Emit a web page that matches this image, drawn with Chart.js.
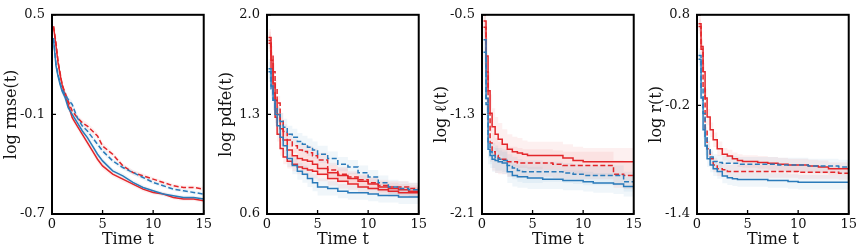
<!DOCTYPE html>
<html>
<head>
<meta charset="utf-8">
<script src="https://cdn.jsdelivr.net/npm/chart.js@4.4.1/dist/chart.umd.min.js"></script>
<style>
  body { margin: 0; background: #fff; }
  #wrap { position: relative; width: 865px; height: 252px; }
  .panel { position: absolute; top: 0; width: 215px; height: 252px; }
</style>
</head>
<body>
<div id="wrap">
  <div class="panel" style="left:0px"><canvas id="c1" width="215" height="252"></canvas></div>
  <div class="panel" style="left:215px"><canvas id="c2" width="215" height="252"></canvas></div>
  <div class="panel" style="left:430px"><canvas id="c3" width="215" height="252"></canvas></div>
  <div class="panel" style="left:645px"><canvas id="c4" width="215" height="252"></canvas></div>
</div>
<script>
// =====================
// Data
// =====================
var time = [0.15, 0.4, 0.6, 0.8, 1, 1.3, 1.6, 2, 2.5, 3, 3.5, 4, 4.5, 5, 6, 7, 8, 9, 10, 11, 12, 13, 14, 15];
var xTicks = [0, 5, 10, 15];

// log rmse(t)
var rmseTicks = [-0.7, -0.1, 0.5];
var rmseRedSolid  = [0.43, 0.31, 0.21, 0.14, 0.08, 0.01, -0.04, -0.12, -0.17, -0.22, -0.27, -0.32, -0.37, -0.41, -0.46, -0.49, -0.52, -0.55, -0.57, -0.58, -0.60, -0.61, -0.61, -0.62];
var rmseRedDashed = [0.43, 0.33, 0.22, 0.15, 0.08, 0.03, -0.02, -0.08, -0.12, -0.15, -0.17, -0.20, -0.23, -0.29, -0.34, -0.41, -0.45, -0.47, -0.49, -0.51, -0.53, -0.54, -0.54, -0.55];
var rmseBlueSolid = [0.35, 0.19, 0.13, 0.08, 0.04, 0.00, -0.06, -0.10, -0.15, -0.20, -0.24, -0.29, -0.34, -0.38, -0.44, -0.47, -0.51, -0.54, -0.56, -0.58, -0.59, -0.60, -0.60, -0.61];
var rmseBlueDashed = [0.36, 0.20, 0.14, 0.09, 0.05, 0.02, -0.01, -0.04, -0.12, -0.17, -0.20, -0.24, -0.28, -0.32, -0.38, -0.42, -0.45, -0.48, -0.51, -0.53, -0.55, -0.56, -0.57, -0.58];
var rmseRedSd  = [0.03, 0.03, 0.025, 0.02, 0.02, 0.02, 0.02, 0.02, 0.02, 0.02, 0.02, 0.02, 0.02, 0.02, 0.015, 0.015, 0.015, 0.015, 0.012, 0.012, 0.012, 0.012, 0.012, 0.012];
var rmseBlueSd = [0.03, 0.03, 0.025, 0.02, 0.02, 0.02, 0.02, 0.02, 0.02, 0.02, 0.02, 0.02, 0.02, 0.02, 0.015, 0.015, 0.015, 0.015, 0.012, 0.012, 0.012, 0.012, 0.012, 0.012];

// log pdfe(t)
var pdfeTicks = [0.6, 1.3, 2.0];
var pdfeBlueDashed = [1.60, 1.48, 1.40, 1.35, 1.30, 1.25, 1.21, 1.16, 1.14, 1.11, 1.09, 1.07, 1.05, 1.02, 0.99, 0.95, 0.93, 0.89, 0.86, 0.82, 0.79, 0.78, 0.77, 0.77];
var pdfeRedDashed  = [1.84, 1.72, 1.60, 1.48, 1.38, 1.26, 1.18, 1.12, 1.08, 1.05, 1.04, 1.03, 1.01, 0.98, 0.91, 0.88, 0.86, 0.84, 0.82, 0.80, 0.79, 0.79, 0.78, 0.78];
var pdfeRedSolid   = [1.82, 1.68, 1.52, 1.40, 1.30, 1.20, 1.12, 1.05, 1.01, 0.99, 0.98, 0.97, 0.95, 0.92, 0.89, 0.87, 0.85, 0.83, 0.81, 0.79, 0.78, 0.77, 0.76, 0.75];
var pdfeRedSolid2  = [1.80, 1.62, 1.45, 1.28, 1.16, 1.06, 1.00, 0.97, 0.95, 0.93, 0.92, 0.91, 0.90, 0.88, 0.85, 0.83, 0.81, 0.79, 0.78, 0.77, 0.76, 0.75, 0.75, 0.74];
var pdfeBlueSolid  = [1.62, 1.50, 1.40, 1.30, 1.22, 1.14, 1.08, 0.99, 0.94, 0.90, 0.88, 0.85, 0.82, 0.79, 0.78, 0.76, 0.75, 0.75, 0.74, 0.73, 0.73, 0.72, 0.72, 0.71];
var pdfeRedSd  = [0.06, 0.06, 0.06, 0.06, 0.05, 0.05, 0.05, 0.05, 0.05, 0.05, 0.05, 0.05, 0.05, 0.05, 0.05, 0.05, 0.04, 0.04, 0.04, 0.04, 0.04, 0.04, 0.04, 0.04];
var pdfeBlueSd = [0.07, 0.07, 0.07, 0.06, 0.06, 0.06, 0.06, 0.06, 0.06, 0.06, 0.06, 0.06, 0.06, 0.06, 0.05, 0.05, 0.05, 0.05, 0.05, 0.05, 0.05, 0.05, 0.05, 0.05];

// log l(t)
var ellTicks = [-2.1, -1.3, -0.5];
var ellRedSolid   = [-0.55, -0.83, -1.11, -1.29, -1.40, -1.46, -1.50, -1.54, -1.58, -1.60, -1.61, -1.62, -1.63, -1.63, -1.63, -1.63, -1.65, -1.67, -1.68, -1.68, -1.68, -1.68, -1.68, -1.68];
var ellRedDashed  = [-0.60, -0.96, -1.29, -1.53, -1.60, -1.63, -1.65, -1.66, -1.68, -1.68, -1.69, -1.69, -1.69, -1.69, -1.69, -1.70, -1.71, -1.71, -1.71, -1.71, -1.71, -1.78, -1.79, -1.82];
var ellBlueDashed = [-0.80, -1.22, -1.53, -1.60, -1.63, -1.65, -1.66, -1.67, -1.71, -1.73, -1.75, -1.76, -1.76, -1.76, -1.76, -1.76, -1.77, -1.78, -1.79, -1.79, -1.79, -1.79, -1.84, -1.88];
var ellBlueSolid  = [-0.70, -1.17, -1.58, -1.63, -1.66, -1.67, -1.68, -1.69, -1.76, -1.79, -1.80, -1.80, -1.81, -1.81, -1.82, -1.82, -1.83, -1.83, -1.84, -1.85, -1.85, -1.86, -1.88, -1.91];
var ellRedSd  = [0.10, 0.15, 0.15, 0.15, 0.15, 0.14, 0.13, 0.12, 0.12, 0.12, 0.12, 0.11, 0.11, 0.11, 0.11, 0.11, 0.11, 0.11, 0.11, 0.11, 0.11, 0.11, 0.11, 0.11];
var ellBlueSd = [0.10, 0.12, 0.12, 0.10, 0.10, 0.10, 0.09, 0.09, 0.09, 0.09, 0.09, 0.09, 0.09, 0.09, 0.08, 0.08, 0.08, 0.08, 0.08, 0.08, 0.08, 0.08, 0.08, 0.08];

// log r(t)
var rTicks = [-1.4, -0.2, 0.8];
var rRedSolid   = [0.70, 0.45, 0.17, -0.12, -0.33, -0.47, -0.58, -0.68, -0.74, -0.76, -0.79, -0.81, -0.82, -0.82, -0.83, -0.84, -0.85, -0.86, -0.86, -0.87, -0.88, -0.90, -0.90, -0.91];
var rRedDashed  = [0.67, 0.42, -0.01, -0.47, -0.68, -0.79, -0.86, -0.90, -0.91, -0.93, -0.93, -0.93, -0.93, -0.93, -0.93, -0.93, -0.93, -0.93, -0.94, -0.94, -0.94, -0.94, -0.95, -0.95];
var rBlueDashed = [0.35, -0.01, -0.29, -0.54, -0.68, -0.77, -0.82, -0.83, -0.84, -0.84, -0.84, -0.85, -0.85, -0.85, -0.85, -0.85, -0.86, -0.86, -0.86, -0.87, -0.87, -0.87, -0.88, -0.88];
var rBlueSolid  = [0.31, -0.12, -0.47, -0.65, -0.79, -0.86, -0.90, -0.93, -0.98, -1.00, -1.01, -1.02, -1.02, -1.02, -1.02, -1.03, -1.03, -1.04, -1.05, -1.05, -1.05, -1.05, -1.05, -1.05];
var rRedSd  = [0.08, 0.10, 0.10, 0.10, 0.09, 0.08, 0.08, 0.08, 0.07, 0.07, 0.07, 0.07, 0.07, 0.07, 0.07, 0.07, 0.07, 0.07, 0.07, 0.07, 0.07, 0.07, 0.07, 0.07];
var rBlueSd = [0.08, 0.10, 0.10, 0.10, 0.09, 0.08, 0.08, 0.08, 0.08, 0.08, 0.08, 0.08, 0.08, 0.08, 0.08, 0.08, 0.08, 0.08, 0.08, 0.08, 0.08, 0.08, 0.08, 0.08];

// =====================
// Styles
// =====================
var RED = '#e3262a';
var BLUE = '#2b7bba';
var RED_BAND = 'rgba(227, 38, 42, 0.07)';
var BLUE_BAND = 'rgba(43, 123, 186, 0.07)';
var FONT = "'DejaVu Serif', 'Liberation Serif', serif";

var panels = [
  { id: 'c1', title: 'log rmse(t)', ticks: rmseTicks, stepped: false, lines: [
      { v: rmseBlueSolid, sd: rmseBlueSd, color: BLUE, dash: false },
      { v: rmseBlueDashed, sd: rmseBlueSd, color: BLUE, dash: true },
      { v: rmseRedDashed, sd: rmseRedSd, color: RED, dash: true },
      { v: rmseRedSolid, sd: rmseRedSd, color: RED, dash: false } ] },
  { id: 'c2', title: 'log pdfe(t)', ticks: pdfeTicks, stepped: true, lines: [
      { v: pdfeBlueSolid, sd: pdfeBlueSd, color: BLUE, dash: false },
      { v: pdfeBlueDashed, sd: pdfeBlueSd, color: BLUE, dash: true },
      { v: pdfeRedDashed, sd: pdfeRedSd, color: RED, dash: true },
      { v: pdfeRedSolid2, sd: pdfeRedSd, color: RED, dash: false },
      { v: pdfeRedSolid, sd: pdfeRedSd, color: RED, dash: false } ] },
  { id: 'c3', title: 'log \u2113(t)', ticks: ellTicks, stepped: true, lines: [
      { v: ellBlueSolid, sd: ellBlueSd, color: BLUE, dash: false },
      { v: ellBlueDashed, sd: ellBlueSd, color: BLUE, dash: true },
      { v: ellRedDashed, sd: ellRedSd, color: RED, dash: true },
      { v: ellRedSolid, sd: ellRedSd, color: RED, dash: false } ] },
  { id: 'c4', title: 'log r(t)', ticks: rTicks, stepped: true, lines: [
      { v: rBlueSolid, sd: rBlueSd, color: BLUE, dash: false },
      { v: rBlueDashed, sd: rBlueSd, color: BLUE, dash: true },
      { v: rRedDashed, sd: rRedSd, color: RED, dash: true },
      { v: rRedSolid, sd: rRedSd, color: RED, dash: false } ] }
];

// frame box + short inward ticks
var framePlugin = {
  id: 'frame',
  afterDatasetsDraw: function(chart) {
    var ctx = chart.ctx, a = chart.chartArea;
    var xs = chart.scales.x, ys = chart.scales.y;
    ctx.save();
    ctx.strokeStyle = '#000';
    ctx.lineWidth = 1.3;
    ctx.beginPath();
    xs.ticks.forEach(function(t) {
      var px = xs.getPixelForValue(t.value);
      ctx.moveTo(px, a.bottom); ctx.lineTo(px, a.bottom - 4);
    });
    ys.ticks.forEach(function(t) {
      var py = ys.getPixelForValue(t.value);
      ctx.moveTo(a.left, py); ctx.lineTo(a.left + 4, py);
    });
    ctx.stroke();
    ctx.lineWidth = 2;
    ctx.strokeRect(a.left, a.top, a.right - a.left, a.bottom - a.top);
    ctx.restore();
  }
};

function pts(vals, sd, sign) {
  return time.map(function(t, i) { return { x: t, y: vals[i] + sign * (sd ? sd[i] : 0) }; });
}

panels.forEach(function(p) {
  var datasets = [];
  p.lines.forEach(function(l) {
    var band = l.color === RED ? RED_BAND : BLUE_BAND;
    datasets.push({ data: pts(l.v, l.sd, 1), borderColor: 'transparent', borderWidth: 0,
      pointRadius: 0, stepped: p.stepped, fill: false, order: 3 });
    datasets.push({ data: pts(l.v, l.sd, -1), borderColor: 'transparent', borderWidth: 0,
      pointRadius: 0, stepped: p.stepped, fill: '-1', backgroundColor: band, order: 3 });
  });
  p.lines.forEach(function(l) {
    datasets.push({ data: pts(l.v, null, 0), borderColor: l.color, borderWidth: 1.5,
      borderDash: l.dash ? [5, 2.5] : [], pointRadius: 0, stepped: p.stepped, fill: false, order: 1 });
  });

  new Chart(document.getElementById(p.id).getContext('2d'), {
    type: 'line',
    data: { datasets: datasets },
    plugins: [framePlugin],
    options: {
      responsive: false,
      animation: false,
      devicePixelRatio: 1,
      layout: { padding: { top: 8, right: 9, left: 0, bottom: 0 } },
      plugins: { legend: { display: false }, tooltip: { enabled: false } },
      scales: {
        x: {
          type: 'linear', min: 0, max: 15,
          grid: { display: false, drawTicks: false },
          border: { display: false },
          afterBuildTicks: function(s) { s.ticks = xTicks.map(function(v) { return { value: v }; }); },
          afterFit: function(s) { s.height = 38; },
          ticks: { padding: 3, color: '#111', maxRotation: 0, font: { family: FONT, size: 13 },
            callback: function(v) { return String(v); } },
          title: { display: true, text: 'Time t', color: '#111', padding: { top: 0, bottom: 3 },
            font: { family: FONT, size: 16 } }
        },
        y: {
          type: 'linear', min: p.ticks[0], max: p.ticks[p.ticks.length - 1],
          grid: { display: false, drawTicks: false },
          border: { display: false },
          afterBuildTicks: function(s) { s.ticks = p.ticks.map(function(v) { return { value: v }; }); },
          afterFit: function(s) { s.width = 52; },
          ticks: { padding: 7, color: '#111', font: { family: FONT, size: 13 },
            callback: function(v) { return v.toFixed(1); } },
          title: { display: true, text: p.title, color: '#111', padding: { top: 2, bottom: 0 },
            font: { family: FONT, size: 16 } }
        }
      }
    }
  });
});
</script>
</body>
</html>
